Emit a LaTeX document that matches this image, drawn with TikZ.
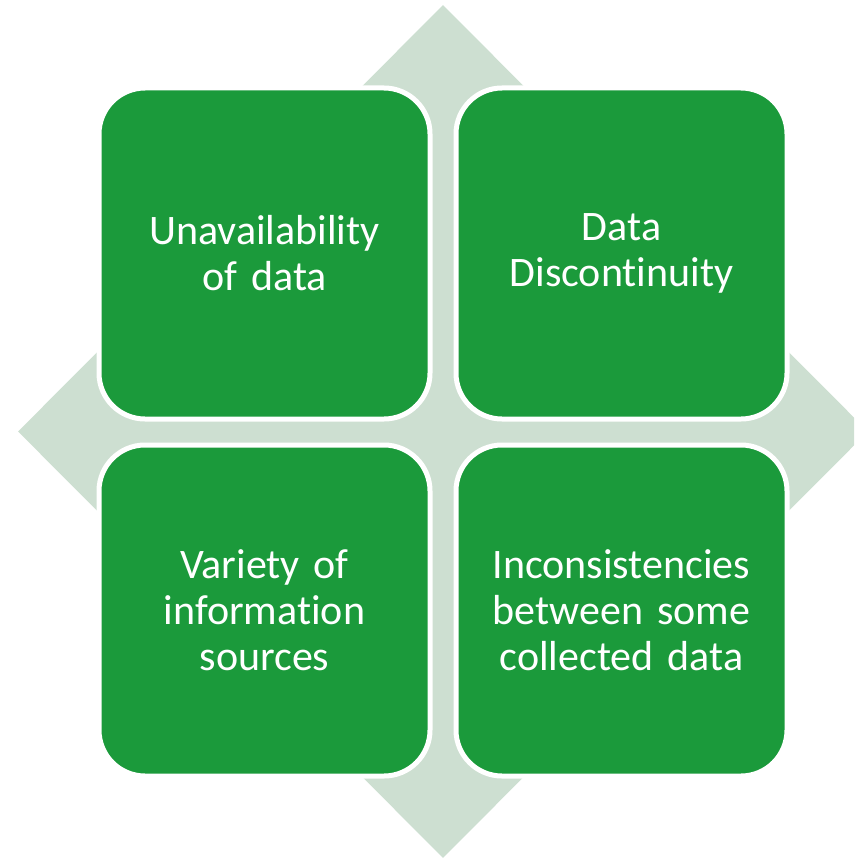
\documentclass[tikz,border=0pt]{standalone}
\usepackage{fontspec}
\setmainfont[RawFeature={-liga;-clig;-dlig}]{Carlito}
\usetikzlibrary{positioning,shapes.geometric}
\definecolor{cellgreen}{RGB}{27,154,59}
\definecolor{paleback}{RGB}{205,223,209}
\tikzset{
	cell/.style = {rectangle, rounded corners=46pt, fill=cellgreen, draw=white, line width=5pt,
		minimum width=331pt, minimum height=331pt, inner sep=0pt, outer sep=0pt,
		align=center, text centered, text width=300pt, text=white, font=\fontsize{42}{46}\selectfont},
	backdrop/.style = {diamond, aspect=1, fill=paleback, inner sep=0pt, minimum width=850pt, minimum height=853pt}
}
\begin{document}
\begin{tikzpicture}[x=1pt, y=-1pt, node distance=26pt and 26pt]
		\useasboundingbox (0,0) rectangle (854,861);
		\clip (0,0) rectangle (854,861);
		\node [backdrop] (back) at (443,431.5) {};
		\node [cell] (unavail) at (264.5,253.5) {Unavailability\\of data};
		\node [cell, right=of unavail] (discont) {Data\\Discontinuity};
		\node [cell, below=of unavail] (variety) {Variety of\\information\\sources};
		\node [cell, below=of discont] (incons) {Inconsistencies\\between some\\collected data};
\end{tikzpicture}
\end{document}
